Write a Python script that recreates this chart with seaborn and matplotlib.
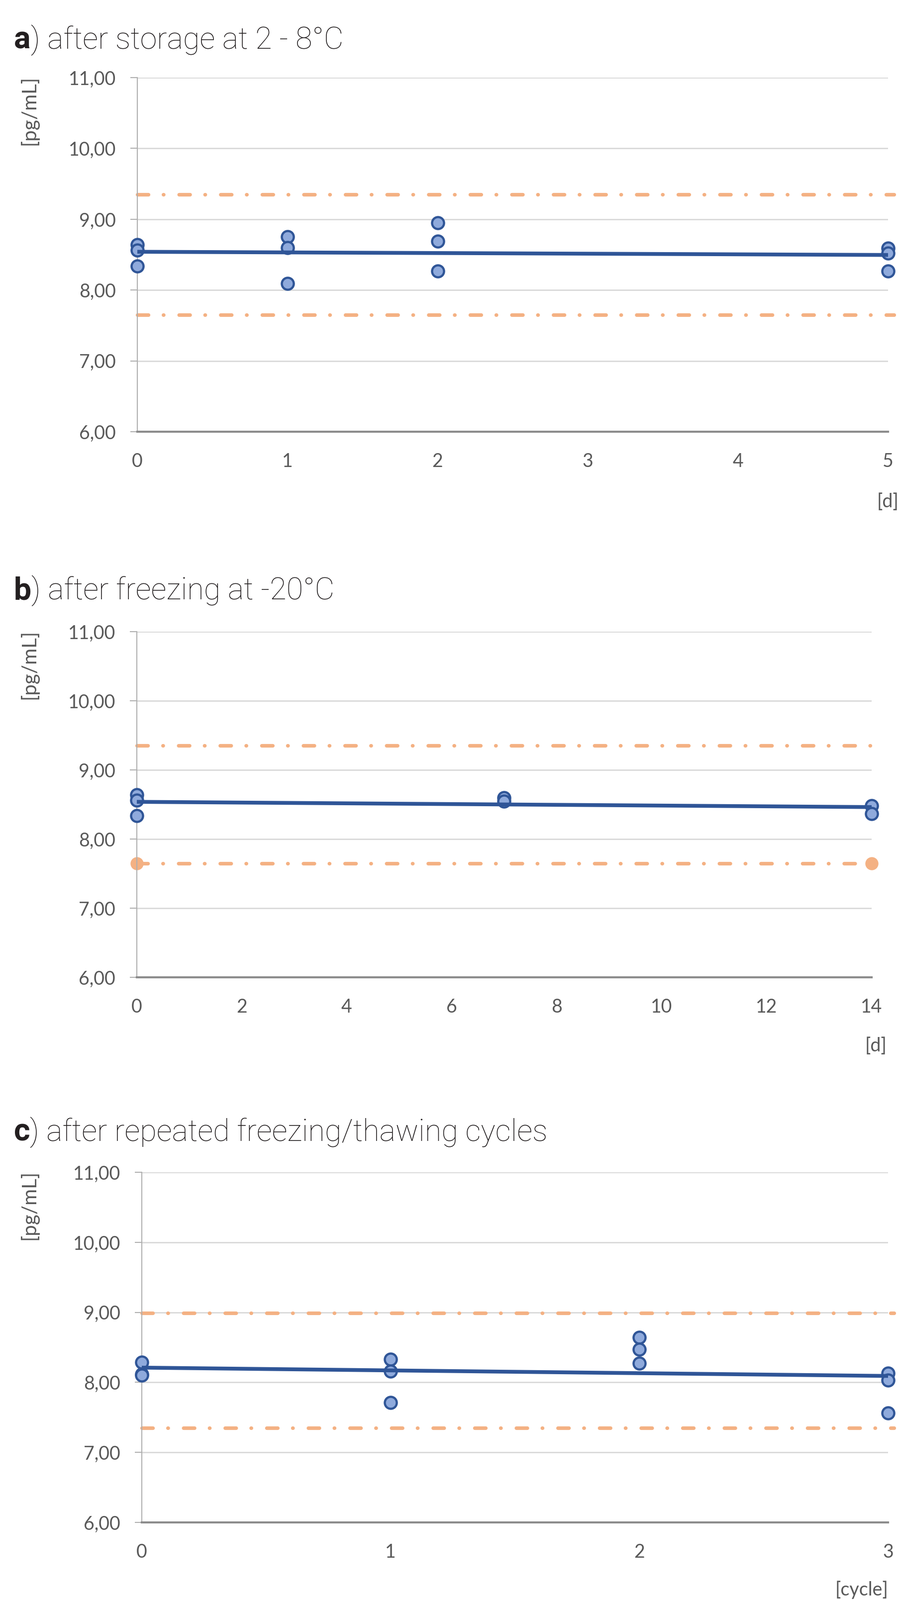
import numpy as np
import matplotlib
matplotlib.use("Agg")
import matplotlib.pyplot as plt
from matplotlib.ticker import FuncFormatter, MultipleLocator
import seaborn as sns

# a) storage at 2-8 C, days
a_days = [0, 0, 0, 1, 1, 1, 2, 2, 2, 5, 5, 5]
a_conc = [8.64, 8.56, 8.34, 8.75, 8.60, 8.09, 8.95, 8.69, 8.27, 8.59, 8.52, 8.27]
a_limits = [7.65, 9.35]

# b) freezing at -20 C, days
b_days = [0, 0, 0, 7, 7, 14, 14]
b_conc = [8.64, 8.56, 8.34, 8.60, 8.55, 8.48, 8.37]
b_limits = [7.65, 9.35]

# c) freeze/thaw cycles
c_cycles = [0, 0, 0, 1, 1, 1, 2, 2, 2, 3, 3, 3]
c_conc = [8.29, 8.12, 8.10, 8.33, 8.16, 7.71, 8.64, 8.47, 8.27, 8.13, 8.03, 7.56]
c_limits = [7.35, 8.99]

titles = [("a", ") after storage at 2 - 8°C"),
          ("b", ") after freezing at -20°C"),
          ("c", ") after repeated freezing/thawing cycles")]
x_units = ["[d]", "[d]", "[cycle]"]

sns.set_style("white")
plt.rcParams["font.family"] = ["Lato", "DejaVu Sans"]
plt.rcParams["lines.scale_dashes"] = False

W, H = 1807, 3217
fig = plt.figure(figsize=(W / 100, H / 100), dpi=100)

# pixel boxes: left, right, top, bottom
boxes = [(276, 1785, 156, 868), (275, 1752, 1270, 1965), (285, 1785, 2357, 3061)]
title_y = [98, 1205, 2294]
unit_pos = [(1763, 1009, "left"), (1783, 2103, "right"), (1786, 3197, "right")]

BLUE = "#2f5597"
FILL = "#8faadc"
ORANGE = "#f4b183"
GREY = "#595959"
limit_style = (0, (15.9, 21.6, 0.4, 22.3))

datasets = [(a_days, a_conc, a_limits, 1),
            (b_days, b_conc, b_limits, 2),
            (c_cycles, c_conc, c_limits, 1)]

for i, (xs, ys, lims, step) in enumerate(datasets):
    l, r, t, b = boxes[i]
    ax = fig.add_axes([l / W, 1 - b / H, (r - l) / W, (b - t) / H])

    for v in lims:
        ax.axhline(v, xmin=0, xmax=1.008, color=ORANGE, lw=5.2,
                   linestyle=limit_style, dash_capstyle="round",
                   clip_on=False, zorder=2)
    if i == 1:
        # limit series with end markers
        ax.scatter([xs[0], xs[-1]], [lims[0], lims[0]], s=360, color=ORANGE,
                   linewidths=0, clip_on=False, zorder=2.5)

    sns.regplot(x=xs, y=ys, ax=ax, ci=None, truncate=True,
                scatter_kws=dict(s=300, facecolors=FILL, edgecolors=BLUE,
                                 linewidths=3.2, alpha=1, clip_on=False, zorder=3),
                line_kws=dict(color=BLUE, lw=5.5, zorder=4, solid_capstyle="butt"))

    ax.set_xlim(0, max(xs))
    ax.set_ylim(6, 11)
    ax.xaxis.set_major_locator(MultipleLocator(step))
    ax.yaxis.set_major_locator(MultipleLocator(1))
    ax.yaxis.set_major_formatter(FuncFormatter(lambda v, p: f"{v:.2f}".replace(".", ",")))
    ax.set_xlabel("")
    ax.set_ylabel("")

    ax.grid(axis="y", color="#d9d9d9", lw=2)
    ax.grid(axis="x", visible=False)
    for s in ["top", "right"]:
        ax.spines[s].set_visible(False)
    ax.spines["left"].set_color("#b0b0b0")
    ax.spines["left"].set_linewidth(1.5)
    ax.spines["bottom"].set_color("#8c8c8c")
    ax.spines["bottom"].set_linewidth(3)
    ax.tick_params(axis="y", length=10, width=1.5, color="#b0b0b0",
                   pad=21, labelsize=27, labelcolor=GREY, left=True)
    ax.tick_params(axis="x", length=0, pad=30, labelsize=27, labelcolor=GREY)

    # y unit label
    fig.text(58 / W, 1 - (t - 4) / H, "[pg/mL]", rotation=90, ha="center", va="top",
             fontsize=29, color=GREY)
    ux, uy, uha = unit_pos[i]
    fig.text(ux / W, 1 - uy / H, x_units[i], ha=uha, va="center",
             fontsize=27, color=GREY)

    # panel title: bold letter then light text
    letter, rest = titles[i]
    tl = fig.text(28 / W, 1 - title_y[i] / H, letter, fontsize=45, fontweight="bold",
                  family=["Roboto", "DejaVu Sans"], color="#231f20", va="baseline")
    fig.canvas.draw()
    bb = tl.get_window_extent()
    fig.text(bb.x1 / W, 1 - title_y[i] / H, rest, fontsize=44, fontweight="light",
             family=["Roboto", "DejaVu Sans"], color="#231f20", va="baseline")

fig.savefig("out.png", dpi=100)
